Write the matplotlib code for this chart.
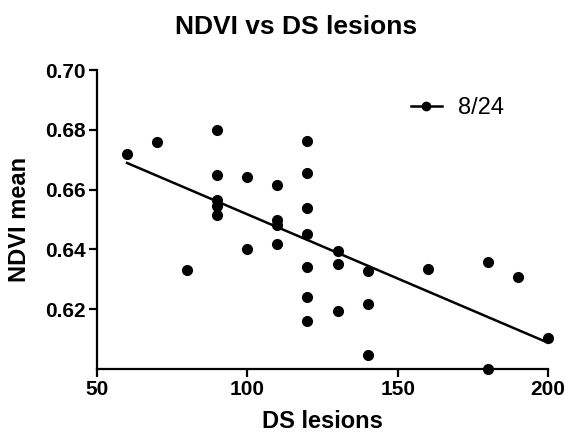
import numpy as np
import matplotlib
matplotlib.use("Agg")
import matplotlib.pyplot as plt
from matplotlib.lines import Line2D

plt.rcParams['font.family'] = ['Liberation Sans', 'DejaVu Sans']

# DS lesions vs NDVI mean
ds_lesions = [60, 70, 80, 90, 90, 90, 90, 90, 100, 100, 110, 110, 110, 110,
              120, 120, 120, 120, 120, 120, 120, 130, 130, 130,
              140, 140, 140, 160, 180, 180, 190, 200]
ndvi_mean = [0.672, 0.6758, 0.633, 0.680, 0.665, 0.6566, 0.6544, 0.6516,
             0.6642, 0.640, 0.6617, 0.6497, 0.6483, 0.6417,
             0.6763, 0.6654, 0.6539, 0.645, 0.6341, 0.624, 0.6162,
             0.6394, 0.635, 0.6193, 0.6328, 0.6216, 0.6046,
             0.6333, 0.6359, 0.600, 0.6308, 0.6104]
series_label = "8/24"
x_ticks = [50, 100, 150, 200]
y_ticks = [0.62, 0.64, 0.66, 0.68, 0.70]

x = np.array(ds_lesions)
y = np.array(ndvi_mean)

fig = plt.figure(figsize=(5.66, 4.41), dpi=100)
ax = fig.add_axes([97 / 566, 1 - 369 / 441, (548 - 97) / 566, (369 - 70) / 441])

ax.plot(x, y, 'o', color='black', markersize=7, clip_on=False, zorder=3)

# linear fit line across the data range
slope, intercept = np.polyfit(x, y, 1)
xf = np.array([x.min(), x.max()])
ax.plot(xf, slope * xf + intercept, color='black', lw=1.8, clip_on=False)

ax.set_xlim(50, 200)
ax.set_ylim(0.60, 0.70)
ax.set_xticks(x_ticks)
ax.set_yticks(y_ticks)
ax.set_yticklabels([f"{v:.2f}" for v in y_ticks])

for side in ['top', 'right']:
    ax.spines[side].set_visible(False)
for side in ['left', 'bottom']:
    ax.spines[side].set_linewidth(1.6)
ax.tick_params(direction='out', length=6, width=1.6, labelsize=15, pad=2)
for lab in ax.get_xticklabels() + ax.get_yticklabels():
    lab.set_fontweight('bold')

ax.set_xlabel("DS lesions", fontsize=17, fontweight='bold', labelpad=8)
ax.set_ylabel("NDVI mean", fontsize=17, fontweight='bold', labelpad=10)
fig.text(296 / 566, 1 - 27 / 441, "NDVI vs DS lesions", fontsize=19,
         fontweight='bold', ha='center', va='center')

handle = Line2D([], [], color='black', lw=1.8, marker='o', markersize=6)
ax.legend([handle], [series_label], loc='upper left', bbox_to_anchor=(0.675, 0.94),
          frameon=False, fontsize=17, handlelength=1.3, handletextpad=0.7,
          borderaxespad=0.0)

fig.savefig("out.png", dpi=100)
